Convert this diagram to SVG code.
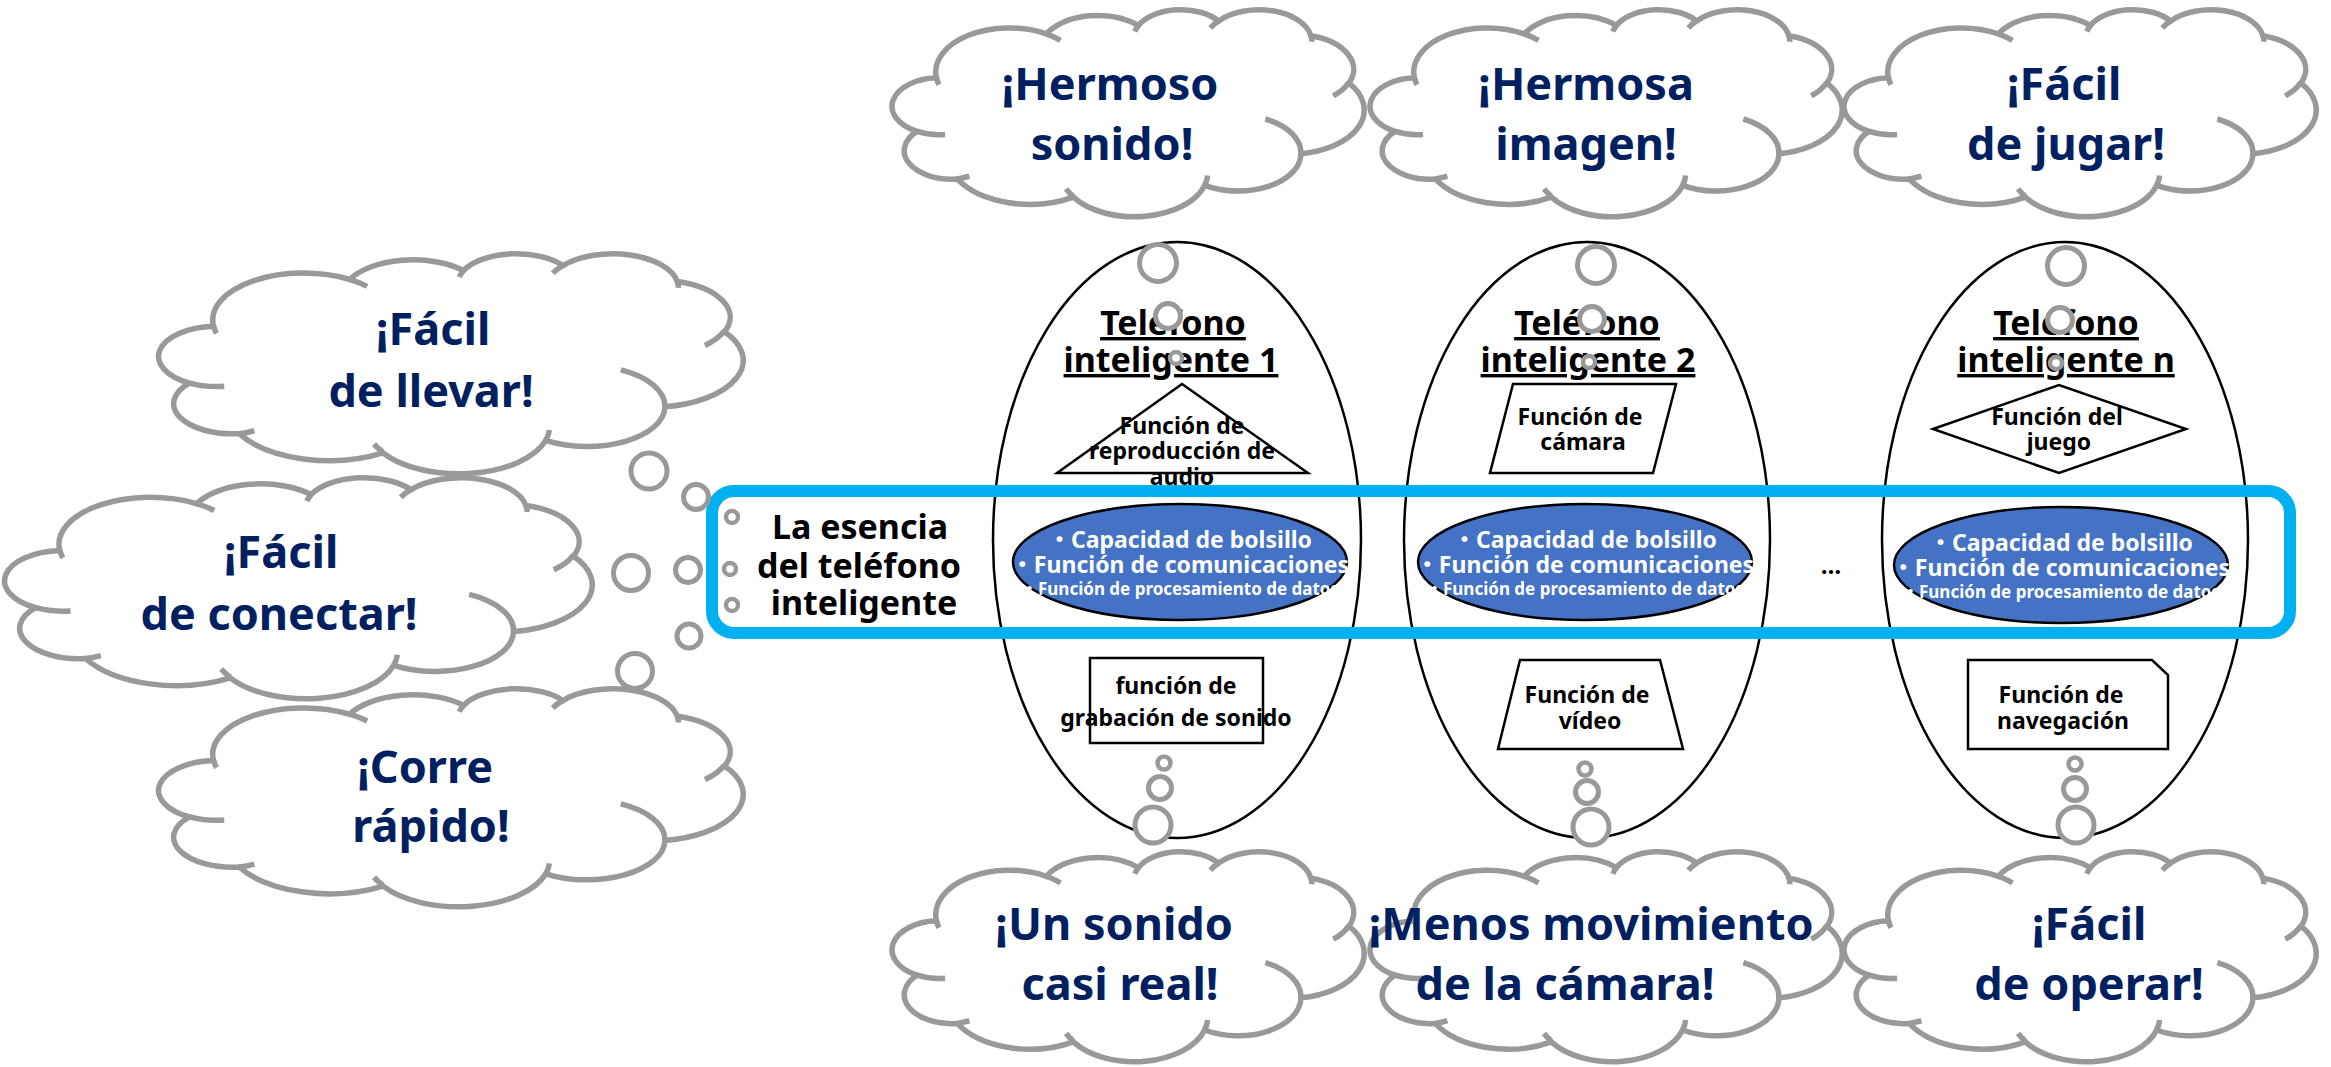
<svg xmlns="http://www.w3.org/2000/svg" width="2331" height="1067" viewBox="0 0 2331 1067">
<style>
.cl{fill:#fff;stroke:#999;stroke-width:5.5;vector-effect:non-scaling-stroke}
.cli{fill:none;stroke:#999;stroke-width:5.5;vector-effect:non-scaling-stroke}
.ct{font-family:"Noto Sans","Noto Sans CJK JP",sans-serif;font-weight:bold;font-size:45px;fill:#002060;text-anchor:middle}
.bub{fill:#fff;stroke:#999;stroke-width:5}
.bubs{fill:#fff;stroke:#999;stroke-width:4.5}
.ph{fill:#fff;stroke:#000;stroke-width:2.5}
.sh{fill:#fff;stroke:#000;stroke-width:2.5}
.tt{font-family:"Noto Sans","Noto Sans CJK JP",sans-serif;font-weight:bold;font-size:34px;fill:#000;text-anchor:middle;text-decoration:underline}
.st{font-family:"Noto Sans","Noto Sans CJK JP",sans-serif;font-weight:bold;font-size:23px;fill:#000;text-anchor:middle}
.core{fill:#4472C4;stroke:#000;stroke-width:2.5}
.cw{font-family:"Noto Sans","Noto Sans CJK JP",sans-serif;font-weight:bold;font-size:23px;fill:#fff;text-anchor:middle}
.cws{font-family:"Noto Sans","Noto Sans CJK JP",sans-serif;font-weight:bold;font-size:17px;fill:#fff;text-anchor:middle}
.et{font-family:"Noto Sans","Noto Sans CJK JP",sans-serif;font-weight:bold;font-size:34px;fill:#000;text-anchor:middle}
</style>
<rect width="2331" height="1067" fill="#fff"/>

<!-- top clouds -->
<g id="cloud-hermoso-sonido">
<path class="cl" transform="translate(894,9) scale(0.010880,0.0047917)" d="M3900 14370A6753 9190 0 0 1 14006 5203A5333 7267 0 0 1 22457 3433A4365 5945 0 0 1 29835 2484A4857 6595 0 0 1 38319 5580A5333 7273 0 0 1 41819 15464A6775 9220 0 0 1 37404 30204A5785 7867 0 0 1 28555 36814A6752 9215 0 0 1 16481 39269A7720 10543 0 0 1 5806 35473A4360 5918 0 0 1 2117 25548A4345 5945 0 0 1 3900 14370Z"/>
<path class="cli" transform="translate(894,9) scale(0.010880,0.0047917)" d="M4693 26177A4345 5945 0 0 1 2117 25548M6928 34899A4360 5918 0 0 1 5806 35473M16478 39090A6752 9215 0 0 1 15812 37525M28827 34751A6752 9215 0 0 1 28555 36814M34129 22954A5785 7867 0 0 1 37404 30204M41798 15354A5333 7273 0 0 1 40372 18140M38324 5426A4857 6595 0 0 1 38396 6844M29078 3952A4857 6595 0 0 1 29835 2484M22141 4720A4365 5945 0 0 1 22457 3433M14000 5192A6753 9190 0 0 1 15304 6550M4127 15789A6753 9190 0 0 1 3900 14370"/>
<text class="ct" x="1110" y="100">¡Hermoso</text>
<text class="ct" x="1112" y="160">sonido!</text>
</g>
<g id="cloud-hermosa-imagen">
<path class="cl" transform="translate(1372,9) scale(0.010880,0.0047917)" d="M3900 14370A6753 9190 0 0 1 14006 5203A5333 7267 0 0 1 22457 3433A4365 5945 0 0 1 29835 2484A4857 6595 0 0 1 38319 5580A5333 7273 0 0 1 41819 15464A6775 9220 0 0 1 37404 30204A5785 7867 0 0 1 28555 36814A6752 9215 0 0 1 16481 39269A7720 10543 0 0 1 5806 35473A4360 5918 0 0 1 2117 25548A4345 5945 0 0 1 3900 14370Z"/>
<path class="cli" transform="translate(1372,9) scale(0.010880,0.0047917)" d="M4693 26177A4345 5945 0 0 1 2117 25548M6928 34899A4360 5918 0 0 1 5806 35473M16478 39090A6752 9215 0 0 1 15812 37525M28827 34751A6752 9215 0 0 1 28555 36814M34129 22954A5785 7867 0 0 1 37404 30204M41798 15354A5333 7273 0 0 1 40372 18140M38324 5426A4857 6595 0 0 1 38396 6844M29078 3952A4857 6595 0 0 1 29835 2484M22141 4720A4365 5945 0 0 1 22457 3433M14000 5192A6753 9190 0 0 1 15304 6550M4127 15789A6753 9190 0 0 1 3900 14370"/>
<text class="ct" x="1586" y="100">¡Hermosa</text>
<text class="ct" x="1586" y="160">imagen!</text>
</g>
<g id="cloud-facil-jugar">
<path class="cl" transform="translate(1846,9) scale(0.010880,0.0047917)" d="M3900 14370A6753 9190 0 0 1 14006 5203A5333 7267 0 0 1 22457 3433A4365 5945 0 0 1 29835 2484A4857 6595 0 0 1 38319 5580A5333 7273 0 0 1 41819 15464A6775 9220 0 0 1 37404 30204A5785 7867 0 0 1 28555 36814A6752 9215 0 0 1 16481 39269A7720 10543 0 0 1 5806 35473A4360 5918 0 0 1 2117 25548A4345 5945 0 0 1 3900 14370Z"/>
<path class="cli" transform="translate(1846,9) scale(0.010880,0.0047917)" d="M4693 26177A4345 5945 0 0 1 2117 25548M6928 34899A4360 5918 0 0 1 5806 35473M16478 39090A6752 9215 0 0 1 15812 37525M28827 34751A6752 9215 0 0 1 28555 36814M34129 22954A5785 7867 0 0 1 37404 30204M41798 15354A5333 7273 0 0 1 40372 18140M38324 5426A4857 6595 0 0 1 38396 6844M29078 3952A4857 6595 0 0 1 29835 2484M22141 4720A4365 5945 0 0 1 22457 3433M14000 5192A6753 9190 0 0 1 15304 6550M4127 15789A6753 9190 0 0 1 3900 14370"/>
<text class="ct" x="2064" y="100">¡Fácil</text>
<text class="ct" x="2066" y="160">de jugar!</text>
</g>

<!-- left clouds -->
<g id="cloud-facil-llevar">
<path class="cl" transform="translate(161,253) scale(0.013472,0.0050926)" d="M3900 14370A6753 9190 0 0 1 14006 5203A5333 7267 0 0 1 22457 3433A4365 5945 0 0 1 29835 2484A4857 6595 0 0 1 38319 5580A5333 7273 0 0 1 41819 15464A6775 9220 0 0 1 37404 30204A5785 7867 0 0 1 28555 36814A6752 9215 0 0 1 16481 39269A7720 10543 0 0 1 5806 35473A4360 5918 0 0 1 2117 25548A4345 5945 0 0 1 3900 14370Z"/>
<path class="cli" transform="translate(161,253) scale(0.013472,0.0050926)" d="M4693 26177A4345 5945 0 0 1 2117 25548M6928 34899A4360 5918 0 0 1 5806 35473M16478 39090A6752 9215 0 0 1 15812 37525M28827 34751A6752 9215 0 0 1 28555 36814M34129 22954A5785 7867 0 0 1 37404 30204M41798 15354A5333 7273 0 0 1 40372 18140M38324 5426A4857 6595 0 0 1 38396 6844M29078 3952A4857 6595 0 0 1 29835 2484M22141 4720A4365 5945 0 0 1 22457 3433M14000 5192A6753 9190 0 0 1 15304 6550M4127 15789A6753 9190 0 0 1 3900 14370"/>
<text class="ct" x="433" y="345">¡Fácil</text>
<text class="ct" x="431" y="407">de llevar!</text>
</g>
<g id="cloud-facil-conectar">
<path class="cl" transform="translate(7,477) scale(0.013542,0.0051157)" d="M3900 14370A6753 9190 0 0 1 14006 5203A5333 7267 0 0 1 22457 3433A4365 5945 0 0 1 29835 2484A4857 6595 0 0 1 38319 5580A5333 7273 0 0 1 41819 15464A6775 9220 0 0 1 37404 30204A5785 7867 0 0 1 28555 36814A6752 9215 0 0 1 16481 39269A7720 10543 0 0 1 5806 35473A4360 5918 0 0 1 2117 25548A4345 5945 0 0 1 3900 14370Z"/>
<path class="cli" transform="translate(7,477) scale(0.013542,0.0051157)" d="M4693 26177A4345 5945 0 0 1 2117 25548M6928 34899A4360 5918 0 0 1 5806 35473M16478 39090A6752 9215 0 0 1 15812 37525M28827 34751A6752 9215 0 0 1 28555 36814M34129 22954A5785 7867 0 0 1 37404 30204M41798 15354A5333 7273 0 0 1 40372 18140M38324 5426A4857 6595 0 0 1 38396 6844M29078 3952A4857 6595 0 0 1 29835 2484M22141 4720A4365 5945 0 0 1 22457 3433M14000 5192A6753 9190 0 0 1 15304 6550M4127 15789A6753 9190 0 0 1 3900 14370"/>
<text class="ct" x="281" y="568">¡Fácil</text>
<text class="ct" x="279" y="630">de conectar!</text>
</g>
<g id="cloud-corre-rapido">
<path class="cl" transform="translate(161,688) scale(0.013472,0.0050463)" d="M3900 14370A6753 9190 0 0 1 14006 5203A5333 7267 0 0 1 22457 3433A4365 5945 0 0 1 29835 2484A4857 6595 0 0 1 38319 5580A5333 7273 0 0 1 41819 15464A6775 9220 0 0 1 37404 30204A5785 7867 0 0 1 28555 36814A6752 9215 0 0 1 16481 39269A7720 10543 0 0 1 5806 35473A4360 5918 0 0 1 2117 25548A4345 5945 0 0 1 3900 14370Z"/>
<path class="cli" transform="translate(161,688) scale(0.013472,0.0050463)" d="M4693 26177A4345 5945 0 0 1 2117 25548M6928 34899A4360 5918 0 0 1 5806 35473M16478 39090A6752 9215 0 0 1 15812 37525M28827 34751A6752 9215 0 0 1 28555 36814M34129 22954A5785 7867 0 0 1 37404 30204M41798 15354A5333 7273 0 0 1 40372 18140M38324 5426A4857 6595 0 0 1 38396 6844M29078 3952A4857 6595 0 0 1 29835 2484M22141 4720A4365 5945 0 0 1 22457 3433M14000 5192A6753 9190 0 0 1 15304 6550M4127 15789A6753 9190 0 0 1 3900 14370"/>
<text class="ct" x="425" y="783">¡Corre</text>
<text class="ct" x="431" y="842">rápido!</text>
</g>

<!-- bottom clouds -->
<g id="cloud-sonido-real">
<path class="cl" transform="translate(894,851) scale(0.010880,0.0048611)" d="M3900 14370A6753 9190 0 0 1 14006 5203A5333 7267 0 0 1 22457 3433A4365 5945 0 0 1 29835 2484A4857 6595 0 0 1 38319 5580A5333 7273 0 0 1 41819 15464A6775 9220 0 0 1 37404 30204A5785 7867 0 0 1 28555 36814A6752 9215 0 0 1 16481 39269A7720 10543 0 0 1 5806 35473A4360 5918 0 0 1 2117 25548A4345 5945 0 0 1 3900 14370Z"/>
<path class="cli" transform="translate(894,851) scale(0.010880,0.0048611)" d="M4693 26177A4345 5945 0 0 1 2117 25548M6928 34899A4360 5918 0 0 1 5806 35473M16478 39090A6752 9215 0 0 1 15812 37525M28827 34751A6752 9215 0 0 1 28555 36814M34129 22954A5785 7867 0 0 1 37404 30204M41798 15354A5333 7273 0 0 1 40372 18140M38324 5426A4857 6595 0 0 1 38396 6844M29078 3952A4857 6595 0 0 1 29835 2484M22141 4720A4365 5945 0 0 1 22457 3433M14000 5192A6753 9190 0 0 1 15304 6550M4127 15789A6753 9190 0 0 1 3900 14370"/>
<text class="ct" x="1114" y="940">¡Un sonido</text>
<text class="ct" x="1120" y="1000">casi real!</text>
</g>
<g id="cloud-menos-movimiento">
<path class="cl" transform="translate(1372,851) scale(0.010880,0.0048611)" d="M3900 14370A6753 9190 0 0 1 14006 5203A5333 7267 0 0 1 22457 3433A4365 5945 0 0 1 29835 2484A4857 6595 0 0 1 38319 5580A5333 7273 0 0 1 41819 15464A6775 9220 0 0 1 37404 30204A5785 7867 0 0 1 28555 36814A6752 9215 0 0 1 16481 39269A7720 10543 0 0 1 5806 35473A4360 5918 0 0 1 2117 25548A4345 5945 0 0 1 3900 14370Z"/>
<path class="cli" transform="translate(1372,851) scale(0.010880,0.0048611)" d="M4693 26177A4345 5945 0 0 1 2117 25548M6928 34899A4360 5918 0 0 1 5806 35473M16478 39090A6752 9215 0 0 1 15812 37525M28827 34751A6752 9215 0 0 1 28555 36814M34129 22954A5785 7867 0 0 1 37404 30204M41798 15354A5333 7273 0 0 1 40372 18140M38324 5426A4857 6595 0 0 1 38396 6844M29078 3952A4857 6595 0 0 1 29835 2484M22141 4720A4365 5945 0 0 1 22457 3433M14000 5192A6753 9190 0 0 1 15304 6550M4127 15789A6753 9190 0 0 1 3900 14370"/>
<text class="ct" x="1591" y="940">¡Menos movimiento</text>
<text class="ct" x="1565" y="1000">de la cámara!</text>
</g>
<g id="cloud-facil-operar">
<path class="cl" transform="translate(1846,851) scale(0.010880,0.0048611)" d="M3900 14370A6753 9190 0 0 1 14006 5203A5333 7267 0 0 1 22457 3433A4365 5945 0 0 1 29835 2484A4857 6595 0 0 1 38319 5580A5333 7273 0 0 1 41819 15464A6775 9220 0 0 1 37404 30204A5785 7867 0 0 1 28555 36814A6752 9215 0 0 1 16481 39269A7720 10543 0 0 1 5806 35473A4360 5918 0 0 1 2117 25548A4345 5945 0 0 1 3900 14370Z"/>
<path class="cli" transform="translate(1846,851) scale(0.010880,0.0048611)" d="M4693 26177A4345 5945 0 0 1 2117 25548M6928 34899A4360 5918 0 0 1 5806 35473M16478 39090A6752 9215 0 0 1 15812 37525M28827 34751A6752 9215 0 0 1 28555 36814M34129 22954A5785 7867 0 0 1 37404 30204M41798 15354A5333 7273 0 0 1 40372 18140M38324 5426A4857 6595 0 0 1 38396 6844M29078 3952A4857 6595 0 0 1 29835 2484M22141 4720A4365 5945 0 0 1 22457 3433M14000 5192A6753 9190 0 0 1 15304 6550M4127 15789A6753 9190 0 0 1 3900 14370"/>
<text class="ct" x="2089" y="940">¡Fácil</text>
<text class="ct" x="2089" y="1000">de operar!</text>
</g>

<!-- phone 1 -->
<g id="phone-1">
<ellipse class="ph" cx="1177" cy="540" rx="184" ry="298"/>
<text class="tt" x="1173" y="335">Teléfono</text>
<text class="tt" x="1171" y="372">inteligente 1</text>
<polygon class="sh" points="1182,384 1308,473 1057,473"/>
<text class="st" x="1182" y="434">Función de</text>
<text class="st" x="1182" y="459">reproducción de</text>
<text class="st" x="1182" y="485">audio</text>
<rect class="sh" x="1090" y="658" width="173" height="85"/>
<text class="st" x="1176" y="694">función de</text>
<text class="st" x="1176" y="726">grabación de sonido</text>
<ellipse class="core" cx="1180" cy="562" rx="167" ry="58"/>
<text class="cw" x="1180" y="548">・Capacidad de bolsillo</text>
<text class="cw" x="1180" y="573">・Función de comunicaciones</text>
<text class="cws" x="1180" y="595">・Función de procesamiento de datos</text>
</g>

<!-- phone 2 -->
<g id="phone-2">
<ellipse class="ph" cx="1587" cy="540" rx="183" ry="298"/>
<text class="tt" x="1587" y="335">Teléfono</text>
<text class="tt" x="1588" y="372">inteligente 2</text>
<polygon class="sh" points="1513,384 1676,384 1653,473 1490,473"/>
<text class="st" x="1580" y="425">Función de</text>
<text class="st" x="1583" y="450">cámara</text>
<polygon class="sh" points="1520,660 1660,660 1683,749 1498,749"/>
<text class="st" x="1587" y="703">Función de</text>
<text class="st" x="1590" y="729">vídeo</text>
<ellipse class="core" cx="1585" cy="562" rx="167" ry="58"/>
<text class="cw" x="1585" y="548">・Capacidad de bolsillo</text>
<text class="cw" x="1585" y="573">・Función de comunicaciones</text>
<text class="cws" x="1585" y="595">・Función de procesamiento de datos</text>
</g>

<!-- phone n -->
<g id="phone-n">
<ellipse class="ph" cx="2065" cy="540" rx="183" ry="298"/>
<text class="tt" x="2066" y="335">Teléfono</text>
<text class="tt" x="2066" y="372">inteligente n</text>
<polygon class="sh" points="1933,429 2059,385 2186,429 2059,473"/>
<text class="st" x="2057" y="425">Función del</text>
<text class="st" x="2059" y="450">juego</text>
<path class="sh" d="M1968 660H2152L2168 675V749H1968Z"/>
<text class="st" x="2061" y="703">Función de</text>
<text class="st" x="2063" y="729">navegación</text>
<ellipse class="core" cx="2061" cy="565" rx="167" ry="58"/>
<text class="cw" x="2061" y="551">・Capacidad de bolsillo</text>
<text class="cw" x="2061" y="576">・Función de comunicaciones</text>
<text class="cws" x="2061" y="598">・Función de procesamiento de datos</text>
</g>

<!-- essence band -->
<g id="essence">
<rect x="712" y="491" width="1578" height="142" rx="22" fill="none" stroke="#00B0F0" stroke-width="12"/>
<text class="et" x="860" y="539">La esencia</text>
<text class="et" x="859" y="578">del teléfono</text>
<text class="et" x="864" y="615">inteligente</text>
<circle class="bubs" cx="732" cy="517" r="6"/>
<circle class="bubs" cx="730" cy="569" r="6"/>
<circle class="bubs" cx="732" cy="605" r="6"/>
<text x="1831" y="574" font-family="Noto Sans, sans-serif" font-weight="bold" font-size="24" text-anchor="middle">…</text>
</g>

<!-- thought bubble trails -->
<g id="connectors">
<circle class="bub" cx="1158" cy="263" r="18.5"/>
<circle class="bub" cx="1168" cy="316" r="12.5"/>
<circle class="bubs" cx="1176" cy="358" r="6"/>
<circle class="bub" cx="1596" cy="265" r="18.5"/>
<circle class="bub" cx="1592" cy="319" r="12.5"/>
<circle class="bubs" cx="1589" cy="362" r="6"/>
<circle class="bub" cx="2066" cy="266" r="18.5"/>
<circle class="bub" cx="2060" cy="320" r="12.5"/>
<circle class="bubs" cx="2056" cy="363" r="6"/>
<circle class="bubs" cx="1164" cy="763" r="6.5"/>
<circle class="bub" cx="1160" cy="788" r="11.5"/>
<circle class="bub" cx="1153" cy="825" r="18"/>
<circle class="bubs" cx="1585" cy="769" r="6.5"/>
<circle class="bub" cx="1587" cy="792" r="11.5"/>
<circle class="bub" cx="1591" cy="827" r="18"/>
<circle class="bubs" cx="2075" cy="764" r="6.5"/>
<circle class="bub" cx="2075" cy="789" r="11.5"/>
<circle class="bub" cx="2076" cy="825" r="18"/>
<circle class="bub" cx="649" cy="471" r="18"/>
<circle class="bub" cx="696" cy="497" r="12.5"/>
<circle class="bub" cx="631" cy="573" r="17.5"/>
<circle class="bub" cx="688" cy="570" r="12.5"/>
<circle class="bub" cx="689" cy="636" r="12"/>
<circle class="bub" cx="635" cy="671" r="17.5"/>
</g>
</svg>
